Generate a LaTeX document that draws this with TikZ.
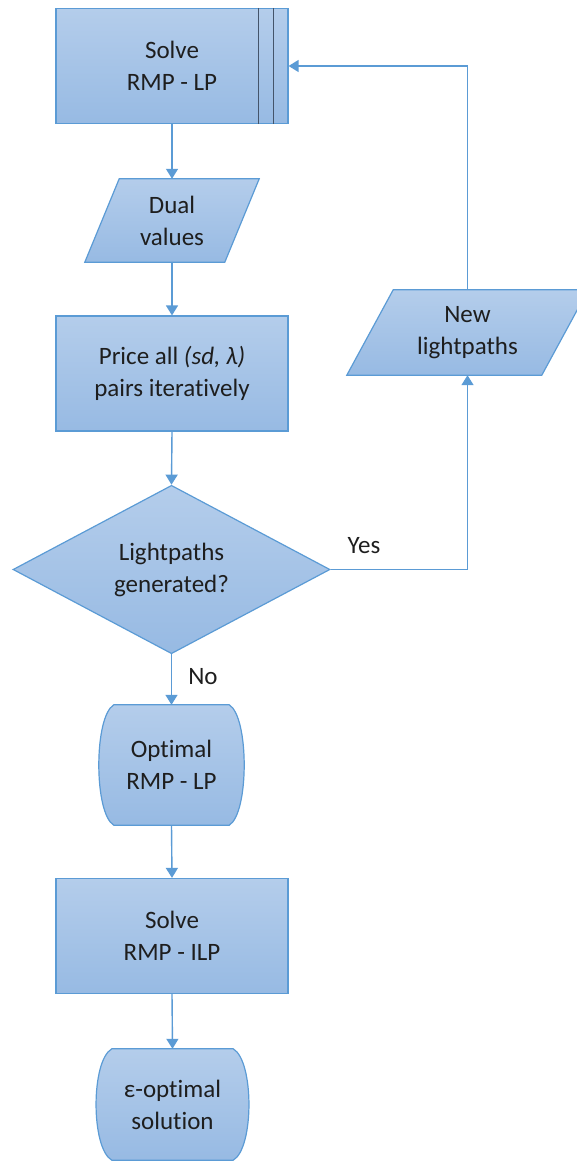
\documentclass[tikz,border=0pt]{standalone}
\usepackage{fontspec}
\setmainfont{Carlito}[Ligatures={NoCommon}]
\usetikzlibrary{shapes.geometric,arrows.meta,backgrounds,calc}

\definecolor{edge}{HTML}{5B9BD5}
\definecolor{shadetop}{HTML}{B4CDEB}
\definecolor{shadebot}{HTML}{97BAE3}
\definecolor{ink}{HTML}{1E1E1E}
\definecolor{divider}{HTML}{44546A}

\begin{document}
\begin{tikzpicture}[x=1pt,y=-1pt,
  lbl/.style={font=\fontsize{25}{32}\selectfont, text=ink, align=center, inner sep=0pt},
  fillshape/.style={draw=edge, line width=1.2pt, top color=shadetop, bottom color=shadebot},
  procbox/.style={lbl, fillshape, rectangle, minimum width=232pt, minimum height=115pt},
  decision/.style={lbl, fillshape, diamond, minimum width=317pt, minimum height=163pt},
  frame/.style 2 args={lbl, minimum width=#1pt, minimum height=#2pt},
  conn/.style={draw=edge, line width=1.4pt, -{Triangle[width=12pt,length=10pt]}},
  tag/.style={font=\fontsize{25}{32}\selectfont, text=ink, inner sep=0pt}]

\useasboundingbox (0,0) rectangle (577,1167);

% process boxes and decision
\node[procbox] (top) at (172,66) {Solve\\RMP - LP};
\node[procbox] (price) at (172,373.5) {Price all \textit{(sd, λ)}\\pairs iteratively};
\node[decision] (dec) at (171.5,569.5) {Lightpaths\\generated?};
\node[procbox] (ilp) at (172,936) {Solve\\RMP - ILP};

% text frames for the drawn outlines
\node[frame={174}{83}] (dual) at (172,220.5) {Dual\\values};
\node[frame={241}{85}] (newlp) at (467.5,332.5) {New\\lightpaths};
\node[frame={147}{120}] (opt) at (171.5,765) {Optimal\\RMP - LP};
\node[frame={155}{111}] (eps) at (172.5,1104.5) {ε-optimal\\solution};

% predefined-process dividers
\draw[divider, line width=1.1pt] ($(top.north east)+(-30,0)$) -- ($(top.south east)+(-30,0)$);
\draw[divider, line width=1.1pt] ($(top.north east)+(-15,0)$) -- ($(top.south east)+(-15,0)$);

\begin{scope}[on background layer]
  \clip (0,0) rectangle (577,1167);
  % data parallelograms
  \path[fillshape] (dual.south west) -- ++(140,0) -- (dual.north east) -- ++(-140,0) -- cycle;
  \path[fillshape] (newlp.south west) -- ++(195,0) -- (newlp.north east) -- ++(-195,0) -- cycle;
  % bulging terminals
  \path[fillshape] ($(opt.north west)+(16,0)$) -- ($(opt.north east)+(-16,0)$)
    .. controls ($(opt.north east)+(4,12)$) and ($(opt.south east)+(4,-12)$) .. ($(opt.south east)+(-16,0)$)
    -- ($(opt.south west)+(16,0)$)
    .. controls ($(opt.south west)+(-4,-12)$) and ($(opt.north west)+(-4,12)$) .. cycle;
  \path[fillshape] ($(eps.north west)+(17,0)$) -- ($(eps.north east)+(-17,0)$)
    .. controls ($(eps.north east)+(4,12)$) and ($(eps.south east)+(4,-12)$) .. ($(eps.south east)+(-17,0)$)
    -- ($(eps.south west)+(17,0)$)
    .. controls ($(eps.south west)+(-4,-12)$) and ($(eps.north west)+(-4,12)$) .. cycle;
\end{scope}

% main flow
\draw[conn] (top.south) -- (dual.north);
\draw[conn] (dual.south) -- (price.north);
\draw[conn] (price.south) -- (dec.north);
\draw[conn] (dec.south) -- (opt.north);
\draw[conn] (opt.south) -- (ilp.north);
\draw[conn] (ilp.south) -- (eps.north);

% loop back
\draw[conn] (dec.east) -| (newlp.south);
\draw[conn] (newlp.north) |- (top.east);

% branch labels
\node[tag] (yes) at (364,546) {Yes};
\node[tag] (no) at (203,677) {No};
\end{tikzpicture}
\end{document}
